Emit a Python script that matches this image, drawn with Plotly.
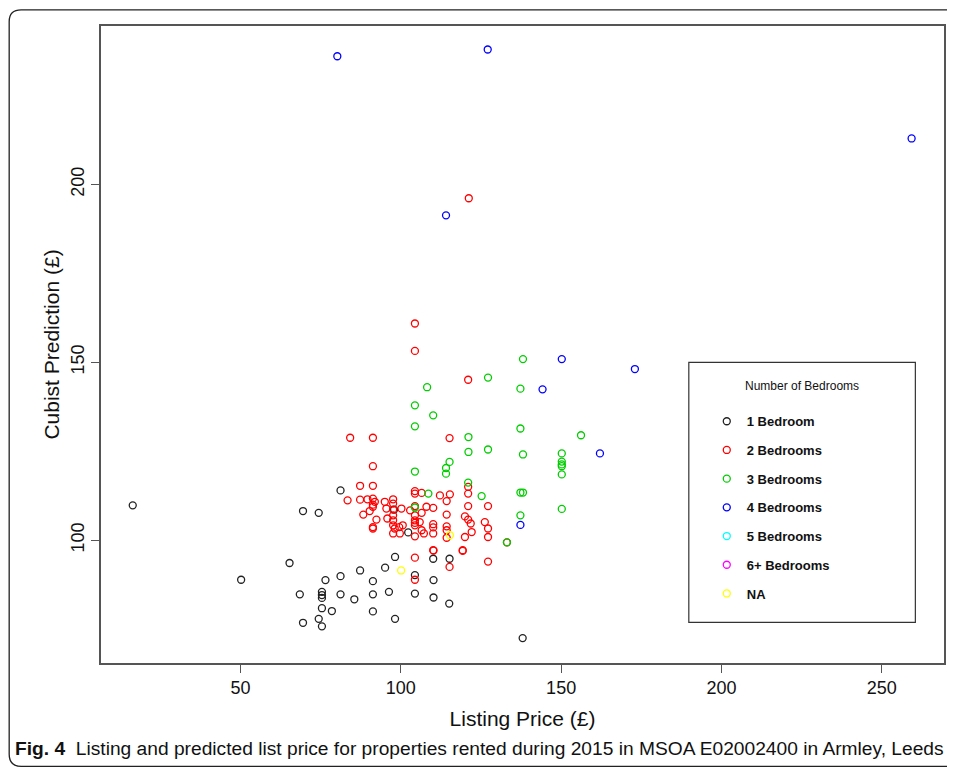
import plotly.graph_objects as go

# ---------------- data ----------------
x_1bed = [16.4, 69.5, 74.4, 81.2, 97.9, 102.3, 98.2, 110.1, 115.2, 50.2, 65.3, 68.5, 69.5,
          75.4, 75.4, 75.4, 76.5, 75.4, 74.4, 75.4, 78.5, 81.2, 81.2, 85.5, 87.3, 91.3,
          91.3, 91.3, 95.1, 96.3, 98.2, 104.4, 104.4, 110.2, 110.2, 115.1, 138.0]
y_1bed = [109.8, 108.2, 107.7, 114.0, 108.6, 102.2, 95.3, 94.8, 94.8, 88.9, 93.6, 84.8, 76.8,
          85.5, 84.6, 83.8, 88.8, 80.9, 77.9, 75.8, 80.1, 89.9, 84.8, 83.4, 91.5, 88.5,
          84.8, 80.0, 92.3, 85.5, 77.9, 90.2, 85.0, 88.8, 83.9, 82.2, 72.5]

x_2bed = [121.2, 104.4, 104.4, 121.0, 84.2, 91.3, 115.2, 91.3, 87.3, 91.3,
          83.4, 87.3, 89.6, 91.3, 91.9, 91.3, 91.3, 88.3, 90.3, 92.4, 91.3, 91.3,
          95.0, 97.6, 97.6, 95.5, 97.6, 97.6, 97.6, 97.6, 98.1, 97.6, 99.5, 99.7, 95.8,
          100.2, 100.6, 102.9, 104.4, 104.4, 104.4, 104.4, 104.4, 104.4, 104.4, 104.4,
          105.9, 106.5, 106.5, 106.5, 107.2, 108.0, 110.1, 110.1, 110.1, 110.1,
          112.2, 115.3, 114.3, 114.3, 114.3, 114.3, 114.3,
          121.0, 121.0, 121.0, 127.2, 120.0, 121.0, 121.8, 126.2, 122.1, 127.2, 127.2, 120.0,
          110.1, 119.3, 104.4, 127.2, 115.2, 104.4, 133.1, 110.2, 119.3]
y_2bed = [196.1, 160.9, 153.2, 145.1, 128.8, 128.8, 128.7, 120.8, 115.3, 115.3,
          111.2, 111.4, 111.5, 111.7, 110.8, 110.0, 109.4, 107.2, 108.2, 105.8, 103.7, 103.3,
          110.8, 111.5, 110.3, 108.9, 108.6, 107.0, 105.6, 104.2, 103.3, 101.9, 103.7, 101.9, 106.1,
          108.9, 104.2, 108.4, 113.8, 113.1, 109.6, 107.0, 105.6, 104.9, 104.2, 101.1,
          105.1, 113.3, 107.7, 102.8, 101.9, 109.4, 109.1, 104.5, 103.6, 101.9,
          112.6, 112.9, 111.0, 107.2, 103.9, 102.8, 100.7,
          115.0, 113.1, 109.6, 109.6, 106.7, 105.8, 104.7, 105.1, 102.3, 103.3, 100.9, 100.9,
          97.2, 97.2, 95.1, 94.0, 92.5, 88.9, 99.4, 97.1, 97.0]

x_3bed = [138.1, 137.3, 137.3, 156.2, 138.1, 150.2, 150.2, 150.2, 150.2, 150.2, 137.3, 138.1,
          150.2, 137.3, 127.2, 108.2, 104.4, 110.1, 104.4, 121.1, 121.1, 127.2, 115.2, 114.1,
          114.1, 104.4, 108.6, 125.2, 121.0, 104.4, 133.1]
y_3bed = [150.9, 142.6, 131.4, 129.5, 124.1, 124.4, 122.1, 121.3, 120.8, 118.5, 113.4, 113.4,
          108.8, 107.0, 145.7, 143.0, 137.9, 135.1, 132.0, 129.0, 124.8, 125.5, 122.0, 120.3,
          118.7, 119.3, 113.1, 112.4, 116.2, 109.2, 99.4]

x_4bed = [80.2, 127.1, 259.3, 114.1, 150.2, 144.2, 173.0, 162.1, 137.3]
y_4bed = [236.0, 237.9, 212.9, 191.3, 150.9, 142.4, 148.1, 124.4, 104.3]

x_5bed = []
y_5bed = []
x_6bed = []
y_6bed = []

x_na = [100.1, 115.3]
y_na = [91.5, 101.4]

series_names = ["1 Bedroom", "2 Bedrooms", "3 Bedrooms", "4 Bedrooms",
                "5 Bedrooms", "6+ Bedrooms", "NA"]
series_x = [x_1bed, x_2bed, x_3bed, x_4bed, x_5bed, x_6bed, x_na]
series_y = [y_1bed, y_2bed, y_3bed, y_4bed, y_5bed, y_6bed, y_na]
series_colors = ["#222222", "#FF0000", "#00CD00", "#0000FF", "#00FFFF", "#FF00FF", "#FFFF00"]

x_ticks = [50, 100, 150, 200, 250]
y_ticks = [100, 150, 200]

# ---------------- layout geometry (page pixels; page body has an 8px margin) ----------------
OFF = 8
PAGE_W, PAGE_H = 955, 768
W, H = PAGE_W - OFF, PAGE_H - OFF
L, R, T, B = 101, 945.7, 25.7, 662.7


def px(xp):
    return (xp - L) / (R - L)


def py(yp):
    return (B - yp) / (B - T)


fig = go.Figure()
for name, xs, ys, col in zip(series_names, series_x, series_y, series_colors):
    fig.add_trace(go.Scatter(
        x=xs if xs else [None], y=ys if ys else [None],
        mode="markers", name=name, legendgroup=name,
        marker=dict(symbol="circle-open", size=7, color=col, line=dict(width=1.3, color=col)),
    ))

tick_font = dict(family="Liberation Sans, Arial, sans-serif", size=18, color="#111")

fig.update_layout(
    width=W, height=H,
    margin=dict(l=L - OFF, r=PAGE_W - R, t=T - OFF, b=PAGE_H - B, pad=0),
    paper_bgcolor="white", plot_bgcolor="white",
    xaxis=dict(range=[6.5, 269.4], tickvals=x_ticks, ticks="outside", ticklen=8, tickwidth=1.3,
               tickcolor="#555", showline=True, mirror=True, linecolor="#555", linewidth=1.6,
               showgrid=False, zeroline=False, tickfont=tick_font,
               title=dict(text="Listing Price (£)", standoff=14,
                          font=dict(family="Liberation Sans, Arial, sans-serif",
                                    size=21, color="#111"))),
    yaxis=dict(range=[65.5, 244.5], tickvals=y_ticks, ticks="outside", ticklen=8, tickwidth=1.3,
               tickcolor="#555", showline=True, mirror=True, linecolor="#555", linewidth=1.6,
               showgrid=False, zeroline=False, tickfont=tick_font, tickangle=-90,
               title=dict(text="Cubist Prediction (£)", standoff=3,
                          font=dict(family="Liberation Sans, Arial, sans-serif", size=21, color="#111"))),
    showlegend=True,
    legend=dict(
        x=px(708), y=py(406), xanchor="left", yanchor="top",
        bgcolor="rgba(0,0,0,0)", borderwidth=0,
        font=dict(family="Liberation Sans, Arial, sans-serif", size=13, color="#111", weight="bold"),
        tracegroupgap=8.8, itemsizing="trace",
    ),
)

# legend frame and title
fig.add_shape(type="rect", xref="paper", yref="paper",
              x0=px(690), x1=px(917), y0=py(622), y1=py(362),
              line=dict(color="#333", width=1.2), fillcolor="rgba(0,0,0,0)")
fig.add_annotation(xref="paper", yref="paper", x=px(803.5), y=py(386),
                   xanchor="center", yanchor="middle", showarrow=False,
                   text="Number of Bedrooms",
                   font=dict(family="Liberation Sans, Arial, sans-serif", size=12, color="#111"))

# outer rounded figure frame
r = 12
fx0, fy0, fx1, fy1 = 9, 9.5, 990, 766
path = (f"M {px(fx1)},{py(fy0)} L {px(fx0 + r)},{py(fy0)} "
        f"Q {px(fx0)},{py(fy0)} {px(fx0)},{py(fy0 + r)} "
        f"L {px(fx0)},{py(fy1 - r)} Q {px(fx0)},{py(fy1)} {px(fx0 + r)},{py(fy1)} "
        f"L {px(fx1)},{py(fy1)}")
fig.add_shape(type="path", xref="paper", yref="paper", path=path,
              line=dict(color="#222", width=1.3))

# caption
fig.add_annotation(
    xref="paper", yref="paper", x=px(13), y=py(748), xanchor="left", yanchor="middle",
    showarrow=False,
    text="<b>Fig. 4</b>  Listing and predicted list price for properties rented during 2015 in MSOA E02002400 in Armley, Leeds",
    font=dict(family="Liberation Sans, Arial, sans-serif", size=19.2, color="#111"),
)

fig.write_html("out.html")
